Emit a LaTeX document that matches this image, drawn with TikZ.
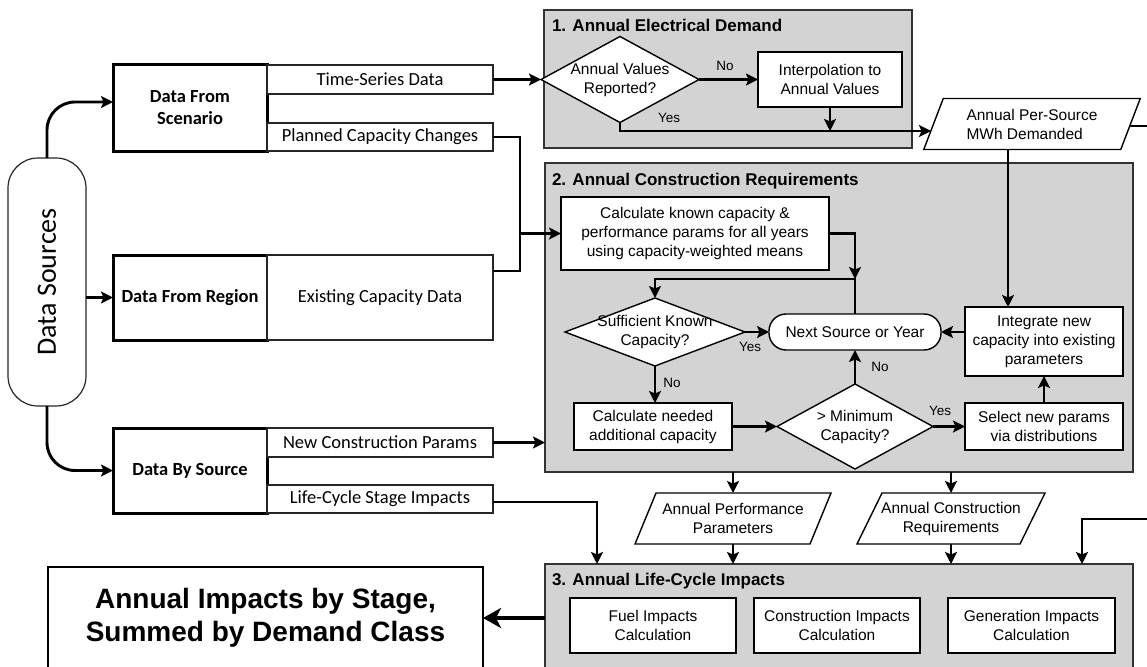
\documentclass[tikz,border=0pt]{standalone}
\usepackage{fontspec}
\setmainfont{Liberation Sans}
\newfontfamily\calfont{Carlito}
\usetikzlibrary{shapes.geometric,arrows.meta}
\definecolor{groupgray}{HTML}{D3D3D3}
\newcommand\fsA{\fontsize{15.5}{19}\selectfont}
\newcommand\fsB{\fontsize{13.5}{16}\selectfont}
\newcommand\fsT{\fontsize{17}{20}\selectfont\bfseries}
\newcommand\calreg{\calfont\fontsize{18.5}{22}\selectfont}
\newcommand\calbold{\calfont\fontsize{18.5}{22}\selectfont\bfseries}
\newcommand\calbig{\calfont\fontsize{28}{32}\selectfont}
\newcommand\fsBig{\fontsize{28}{33}\selectfont\bfseries}
\begin{document}
\begin{tikzpicture}[x=1pt,y=-1pt,
  every node/.style={inner sep=0pt, outer sep=0pt},
  conn/.style={line width=2.9pt, -{Stealth[length=12pt,width=12pt,inset=2.5pt]}},
  plain/.style={line width=2.9pt},
  grp/.style={draw=black!80, line width=1.3pt, fill=groupgray},
  box/.style={draw, line width=1.4pt, fill=white, align=center, font=\fsA},
  dbox/.style={draw, line width=3pt, fill=white, align=center, font=\calbold},
  sbox/.style={draw=black!85, line width=1.2pt, fill=white, align=center, font=\calreg},
  dia/.style={diamond, draw, line width=1.4pt, fill=white},
  txt/.style={align=center, font=\fsA},
  lbl/.style={font=\fsB},
  ttl/.style={anchor=base west, font=\fsT},
  para/.style={line width=1.4pt, line join=miter},
]
\clip (0,0) rectangle (1147,666);
\fill[white] (0,0) rectangle (1147,666);

% groups
\node[grp, minimum width=368pt, minimum height=138pt] (g1) at (728,79) {};
\node[grp, minimum width=588pt, minimum height=309pt] (g2) at (839,317.5) {};
\node[grp, minimum width=588pt, minimum height=108pt] (g3) at (839,618) {};
\node[ttl] (t1) at (552,32) {1. Annual Electrical Demand};
\node[ttl] (t2) at (552,185) {2. Annual Construction Requirements};
\node[ttl] (t3) at (552,585) {3. Annual Life-Cycle Impacts};

% data sources
\node[draw=black!85, line width=1.2pt, rounded corners=30pt, fill=white,
      minimum width=78pt, minimum height=248pt] (ds) at (47,282) {};
\node[rotate=90, font=\calbig] (dst) at (ds) {Data Sources};

\node[dbox, minimum width=154pt, minimum height=86pt] (dfs) at (190,108) {Data From\\Scenario};
\node[sbox, minimum width=226pt, minimum height=29pt] (ts) at (380,79.5) {Time-Series Data};
\node[sbox, minimum width=226pt, minimum height=28pt] (pcc) at (380,137) {Planned Capacity Changes};
\node[dbox, minimum width=154pt, minimum height=85pt] (dfr) at (190,297.5) {Data From Region};
\node[sbox, minimum width=226pt, minimum height=85pt] (ecd) at (380,297.5) {Existing Capacity Data};
\node[dbox, minimum width=154pt, minimum height=85pt] (dbs) at (190,470.5) {Data By Source};
\node[sbox, minimum width=226pt, minimum height=29pt] (ncp) at (380,442.5) {New Construction Params};
\node[sbox, minimum width=226pt, minimum height=28pt] (lcs) at (380,499) {Life-Cycle Stage Impacts};

\node[draw, line width=1.4pt, fill=white, align=center, font=\fsBig,
      minimum width=435pt, minimum height=102pt] (imp) at (265.5,618) {Annual Impacts by Stage,\\Summed by Demand Class};

% group 1
\node[dia, minimum width=158pt, minimum height=86pt] (dia1) at (620,79.5) {};
\node[txt] (dia1t) at (dia1) {Annual Values\\Reported?};
\node[box, minimum width=144pt, minimum height=55pt] (interp) at (830,79.5) {Interpolation to\\Annual Values};
\node[lbl] (no1) at (725,66) {No};
\node[lbl] (yes1) at (669,118) {Yes};

\node[align=left, font=\fsA, minimum width=197pt, minimum height=51pt] (p1) at (1032,124) {Annual Per-Source\\MWh Demanded};
\draw[para] ([xshift=9.75pt]p1.north west) -- ([xshift=9.75pt]p1.north east)
  -- ([xshift=-9.75pt]p1.south east) -- ([xshift=-9.75pt]p1.south west) -- cycle;
\coordinate (p1in) at (931,131);
\coordinate (p1out) at (1129.5,126);
\coordinate (rout) at (1150,126);

% group 2
\node[box, minimum width=268pt, minimum height=73pt] (calc) at (695,233.5) {Calculate known capacity \&\\performance params for all years\\using capacity-weighted means};
\node[dia, minimum width=180pt, minimum height=68pt] (suff) at (655,332) {};
\node[txt] (sufft) at (suff) {Sufficient Known\\Capacity?};
\node[box, rounded corners=17pt, minimum width=172pt, minimum height=36pt] (next) at (855,332) {Next Source or Year};
\node[box, minimum width=158pt, minimum height=69pt] (integ) at (1044,341.5) {Integrate new\\capacity into existing\\parameters};
\node[box, minimum width=158pt, minimum height=47pt] (need) at (653,426.5) {Calculate needed\\additional capacity};
\node[dia, minimum width=156pt, minimum height=85pt] (mind) at (855,426.5) {};
\node[txt] (mindt) at (mind) {> Minimum\\Capacity?};
\node[box, minimum width=158pt, minimum height=47pt] (sel) at (1044,426.5) {Select new params\\via distributions};
\node[lbl] (yes2) at (750,347) {Yes};
\node[lbl] (no2) at (672,383) {No};
\node[lbl] (no3) at (880,367) {No};
\node[lbl] (yes3) at (940,411) {Yes};
\coordinate (jx) at (520,233.5);
\coordinate (j2) at (855,279);

% middle parallelograms
\node[txt, minimum width=175pt, minimum height=51pt] (p2) at (733,518.5) {Annual Performance\\Parameters};
\draw[para] ([xshift=10.5pt]p2.north west) -- ([xshift=10.5pt]p2.north east)
  -- ([xshift=-10.5pt]p2.south east) -- ([xshift=-10.5pt]p2.south west) -- cycle;
\node[txt, minimum width=163pt, minimum height=51pt] (p3) at (951,518.5) {Annual Construction\\Requirements};
\draw[para] ([xshift=12.5pt]p3.north west) -- ([xshift=12.5pt]p3.north east)
  -- ([xshift=-12.5pt]p3.south east) -- ([xshift=-12.5pt]p3.south west) -- cycle;
\coordinate (rin) at (1150,519);

% group 3
\node[box, minimum width=166pt, minimum height=55pt] (fuel) at (653,625.5) {Fuel Impacts\\Calculation};
\node[box, minimum width=166pt, minimum height=55pt] (cons) at (837,625.5) {Construction Impacts\\Calculation};
\node[box, minimum width=167pt, minimum height=55pt] (gen) at (1031.5,625.5) {Generation Impacts\\Calculation};

% connectors
\draw[conn, rounded corners=28pt] (ds.north) |- ([yshift=6pt]dfs.west);
\draw[conn] (ds.east |- dfr.west) -- (dfr.west);
\draw[conn, rounded corners=28pt] (ds.south) |- (dbs.west);
\draw[conn] (ts.east) -- (dia1.west);
\draw[plain] (pcc.east) -| (jx) |- ([yshift=26.5pt]ecd.east);
\draw[conn] (jx) -- (calc.west);
\draw[conn] (ncp.east) -- (ncp.east -| g2.west);
\draw[conn] ([yshift=-3pt]lcs.east) -| ([xshift=52pt]g3.north west);
\draw[conn] (dia1.east) -- (interp.west);
\draw[conn] (dia1.south) |- (p1in);
\draw[conn] (interp.south) -- (interp.south |- p1in);
\draw[plain] (p1out) -- (rout);
\draw[conn] ([xshift=-24pt]p1.south) -- ([xshift=-24pt]p1.south |- integ.north);
\draw[conn] (calc.east) -| (j2);
\draw[conn] (next.north) -- (j2) -| (suff.north);
\draw[conn] (suff.east) -- (next.west);
\draw[conn] (suff.south) -- (suff.south |- need.north);
\draw[conn] (need.east) -- (mind.west);
\draw[conn] (mind.north) -- (next.south);
\draw[conn] (mind.east) -- (sel.west);
\draw[conn] (sel.north) -- (integ.south);
\draw[conn] (integ.west |- next.east) -- (next.east);
\draw[conn] (p2.north |- g2.south) -- (p2.north);
\draw[conn] (p2.south) -- (p2.south |- g3.north);
\draw[conn] (p3.north |- g2.south) -- (p3.north);
\draw[conn] (p3.south) -- (p3.south |- g3.north);
\draw[conn] (rin) -| ([xshift=-51pt]g3.north east);
\draw[line width=4pt, -{Stealth[length=18pt,width=20pt,inset=5pt]}] (g3.west) -- (g3.west -| imp.east);
\end{tikzpicture}
\end{document}
